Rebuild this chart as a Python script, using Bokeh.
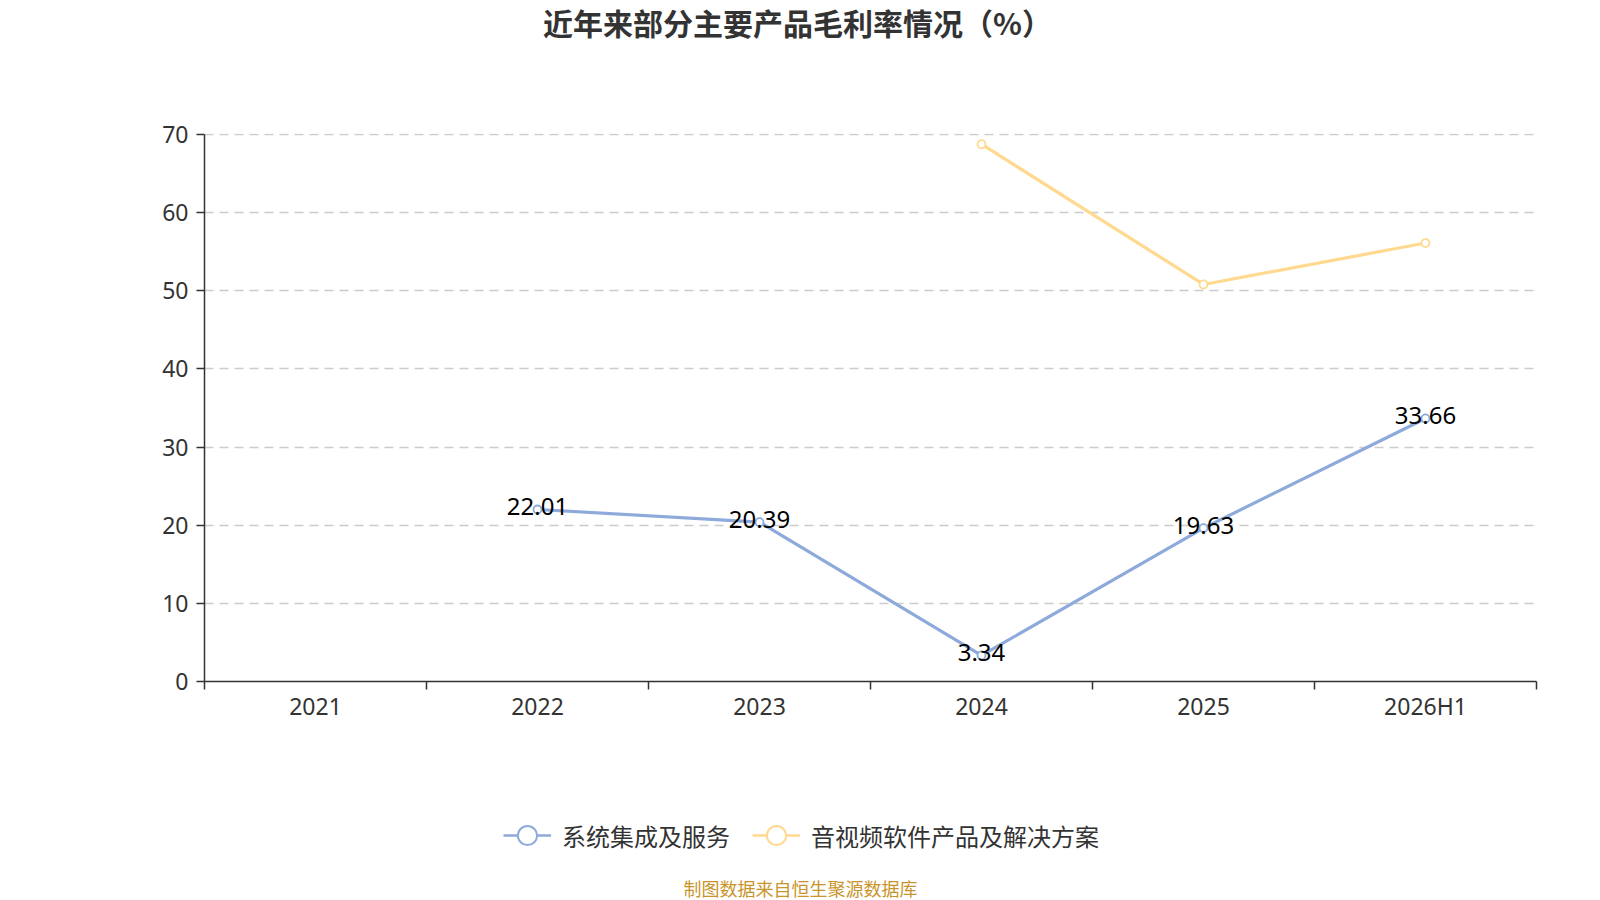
from bokeh.plotting import figure
from bokeh.layouts import column
from bokeh.models import (ColumnDataSource, FixedTicker, Legend, LegendItem, Label, Range1d)
from bokeh.core.properties import value
from bokeh.embed import file_html
from bokeh.resources import INLINE

categories = ["2021", "2022", "2023", "2024", "2025", "2026H1"]
series1_name = "系统集成及服务"
series1 = [None, 22.01, 20.39, 3.34, 19.63, 33.66]
series2_name = "音视频软件产品及解决方案"
series2 = [None, None, None, 68.76, 50.81, 56.11]
y_ticks = [0, 10, 20, 30, 40, 50, 60, 70]
title_text = "近年来部分主要产品毛利率情况（%）"
footer_text = "制图数据来自恒生聚源数据库"

BLUE = "#8EAADB"
YELLOW = "#FFD98F"
NUM_FONT = "Noto Sans"
CJK_FONT = "Noto Sans CJK SC"
W = 1600
H_TOP, H_MAIN, H_BOT = 60, 720, 120
LEFT, RIGHT = 204, 64          # shared frame borders (column aligns frames)
NAN = float("nan")


def bare_fig(h):
    f = figure(width=W, height=h, output_backend="svg", toolbar_location=None,
               x_range=Range1d(LEFT, W - RIGHT), y_range=Range1d(0, h),
               x_axis_location=None, y_axis_location=None,
               min_border_left=LEFT, min_border_right=RIGHT,
               min_border_top=0, min_border_bottom=0)
    f.outline_line_color = None
    f.grid.visible = False
    return f


# ---- title strip
pt = bare_fig(H_TOP)
pt.add_layout(Label(x=797, y=H_TOP - 21, text=title_text, text_align="center",
                    text_baseline="middle", text_font=CJK_FONT, text_font_size="30px",
                    text_font_style="bold", text_color="#333333"))

# ---- main chart
p = figure(width=W, height=H_MAIN, output_backend="svg", toolbar_location=None,
           x_range=Range1d(0, len(categories)), y_range=Range1d(0, 70.128),
           min_border_left=LEFT, min_border_right=RIGHT, min_border_top=73,
           min_border_bottom=99)
p.outline_line_color = None


def pts(vals):
    xs, ys, lbl = [], [], []
    for i, v in enumerate(vals):
        if v is not None:
            xs.append(i + 0.5)
            ys.append(v)
            lbl.append(f"{v:.2f}")
    return ColumnDataSource(dict(x=xs, y=ys, label=lbl))


s1 = pts(series1)
s2 = pts(series2)

p.line("x", "y", source=s1, line_color=BLUE, line_width=3.2)
p.scatter("x", "y", source=s1, size=8, fill_color="white", line_color=BLUE, line_width=1.8)
p.line("x", "y", source=s2, line_color=YELLOW, line_width=3.2)
p.scatter("x", "y", source=s2, size=8, fill_color="white", line_color=YELLOW, line_width=1.8)

p.text("x", "y", text="label", source=s1, text_align="center", text_baseline="middle",
       y_offset=-3, text_font=value(NUM_FONT), text_font_size="24px", text_color="#000000")

xa = p.xaxis[0]
xa.ticker = FixedTicker(ticks=[i + 0.5 for i in range(len(categories))],
                        minor_ticks=list(range(len(categories) + 1)))
xa.major_label_overrides = {i + 0.5: c for i, c in enumerate(categories)}
xa.major_tick_out = 0
xa.major_tick_in = 0
xa.minor_tick_out = 8
xa.minor_tick_in = 0
xa.minor_tick_line_color = "#333333"
xa.minor_tick_line_width = 1.5
xa.axis_line_color = "#333333"
xa.axis_line_width = 1.5
xa.major_label_text_font = NUM_FONT
xa.major_label_text_font_size = "23px"
xa.major_label_text_color = "#333333"
xa.major_label_standoff = 0

ya = p.yaxis[0]
ya.ticker = FixedTicker(ticks=y_ticks, minor_ticks=[])
ya.bounds = (0, 70)
ya.major_tick_out = 8
ya.major_tick_in = 0
ya.major_tick_line_color = "#333333"
ya.major_tick_line_width = 1.5
ya.minor_tick_line_color = None
ya.axis_line_color = "#333333"
ya.axis_line_width = 1.5
ya.major_label_text_font = NUM_FONT
ya.major_label_text_font_size = "23px"
ya.major_label_text_color = "#333333"
ya.major_label_standoff = 8

p.xgrid.grid_line_color = None
p.ygrid.ticker = FixedTicker(ticks=y_ticks[1:])
p.ygrid.grid_line_color = "#cccccc"
p.ygrid.grid_line_width = 1.5
p.ygrid.grid_line_dash = "9 6"

# ---- legend + footer strip
pb = bare_fig(H_BOT)
l1 = pb.line([NAN, NAN], [NAN, NAN], line_color=BLUE, line_width=2.5)
m1 = pb.scatter([NAN], [NAN], size=22, fill_color="white", line_color=BLUE, line_width=2)
l2 = pb.line([NAN, NAN], [NAN, NAN], line_color=YELLOW, line_width=2.5)
m2 = pb.scatter([NAN], [NAN], size=22, fill_color="white", line_color=YELLOW, line_width=2)
legend = Legend(items=[LegendItem(label=series1_name, renderers=[l1, m1]),
                       LegendItem(label=series2_name, renderers=[l2, m2])],
                orientation="horizontal", location=(503 - LEFT, 40),
                glyph_width=48, glyph_height=50, label_height=30, label_standoff=11,
                spacing=22, border_line_color=None, background_fill_alpha=0,
                label_text_font=CJK_FONT, label_text_font_size="24px",
                label_text_color="#333333", padding=0, margin=0)
pb.add_layout(legend, "center")
pb.add_layout(Label(x=800, y=13, text=footer_text, text_align="center",
                    text_baseline="middle", text_font=CJK_FONT, text_font_size="18px",
                    text_color="#C8952C"))

layout = column(pt, p, pb, spacing=0)
open("out.html", "w").write(file_html(layout, INLINE))
